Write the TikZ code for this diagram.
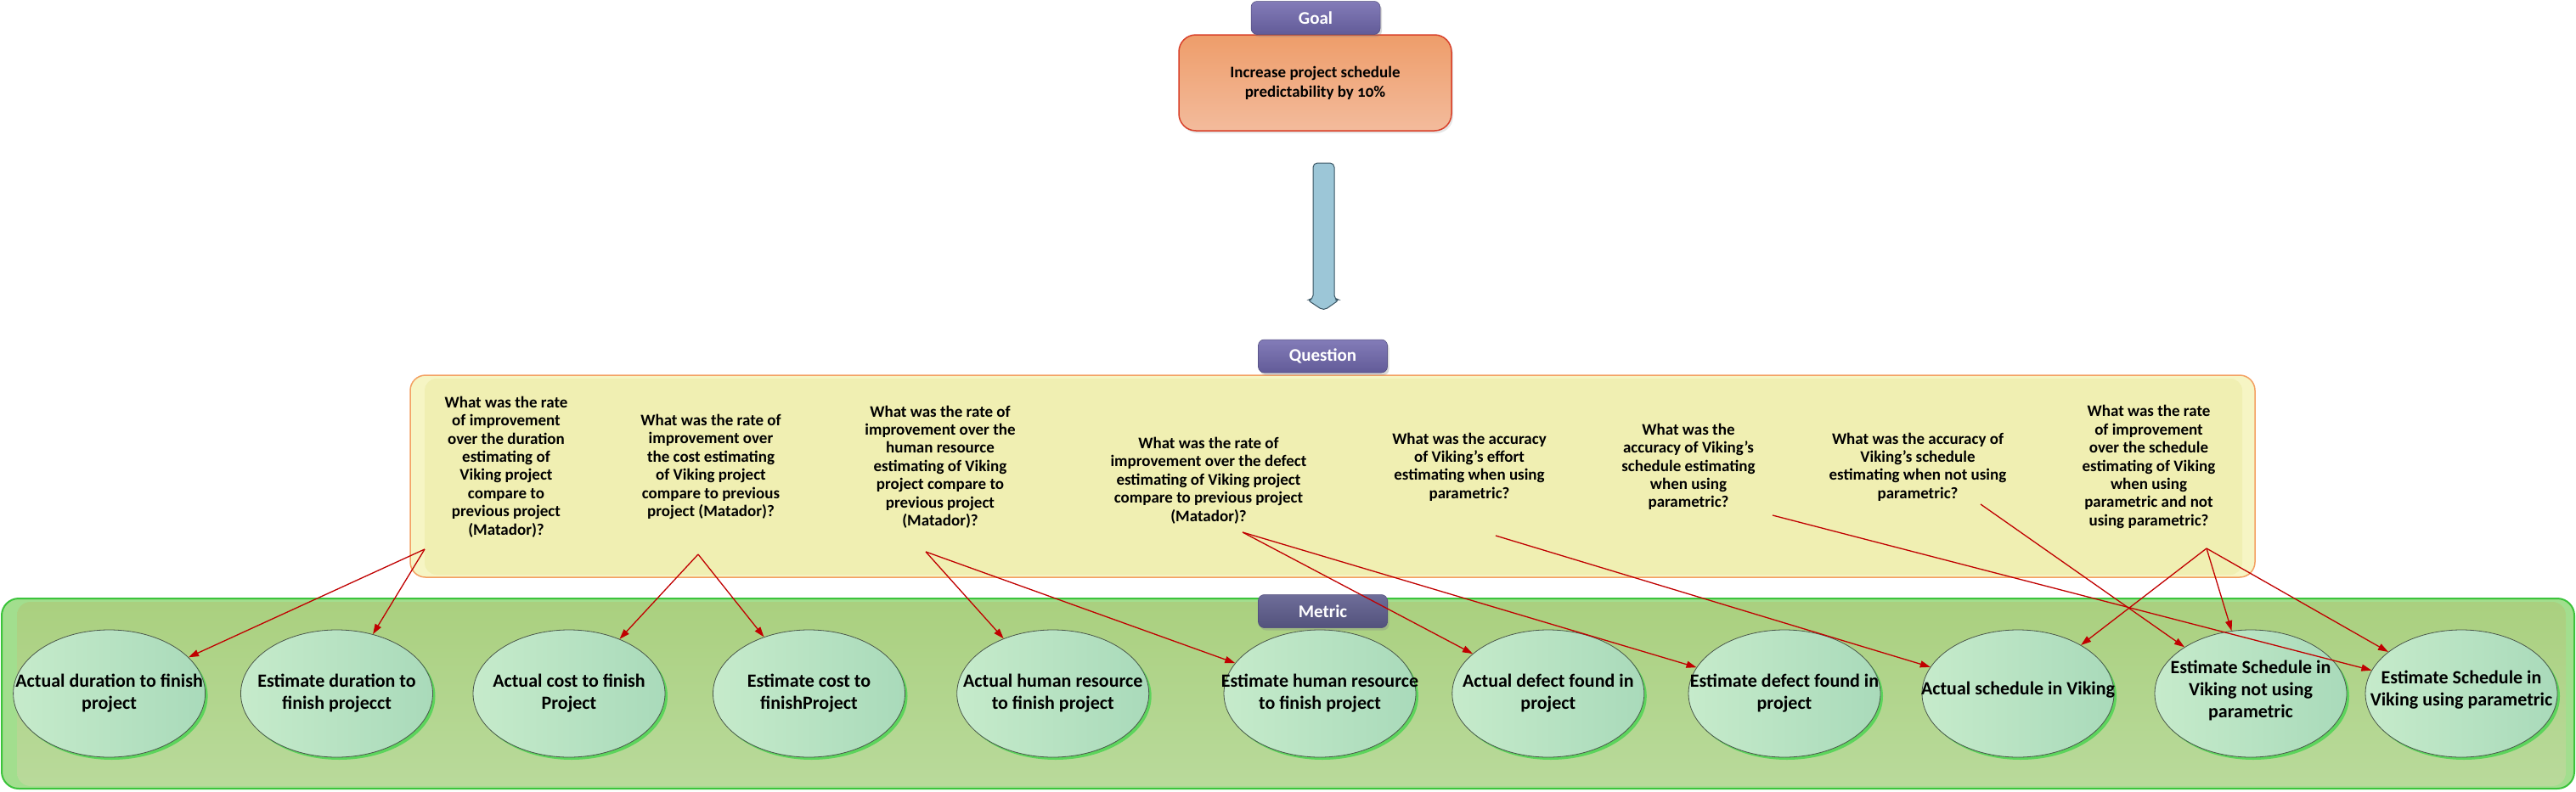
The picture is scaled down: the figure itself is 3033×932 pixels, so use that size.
\documentclass[tikz,border=0pt]{standalone}
\usepackage{fontspec}
\setmainfont{Carlito}
\usetikzlibrary{shapes.geometric,arrows.meta,shadows}
\definecolor{goalT}{HTML}{EE9D6A}
\definecolor{goalB}{HTML}{F3BB9C}
\definecolor{goalborder}{HTML}{D8402A}
\definecolor{lblT}{HTML}{837CB8}
\definecolor{lblB}{HTML}{625B98}
\definecolor{mlblT}{HTML}{6E6D99}
\definecolor{mlblB}{HTML}{53527C}
\definecolor{arrowfill}{HTML}{9CC6D7}
\definecolor{arrowborder}{HTML}{3A5563}
\definecolor{qouter}{HTML}{F6F5C4}
\definecolor{qinner}{HTML}{F0EFB2}
\definecolor{qborder}{HTML}{F3A062}
\definecolor{gouter}{HTML}{A2DE8E}
\definecolor{ginnerT}{HTML}{AAD07F}
\definecolor{ginnerB}{HTML}{B9DA9B}
\definecolor{gborder}{HTML}{3CC43C}
\definecolor{ellL}{HTML}{C6EBCB}
\definecolor{ellR}{HTML}{A9DABA}
\definecolor{ellborder}{HTML}{4A574A}
\definecolor{ellshadow}{HTML}{5CD45C}
\definecolor{connred}{HTML}{C00000}
\begin{document}
\begin{tikzpicture}[x=1pt,y=-1pt,
  qtext/.style={font=\bfseries\fontsize{19}{21.4}\selectfont, align=center, inner sep=0pt},
  metricnode/.style={ellipse, minimum width=226pt, minimum height=150pt, inner sep=0pt,
    draw=ellborder, line width=0.8pt, left color=ellL, right color=ellR,
    drop shadow={fill=ellshadow, shadow xshift=3pt, shadow yshift=-3pt, opacity=1}},
  mtext/.style={font=\bfseries\fontsize{22}{26}\selectfont, align=center, inner sep=0pt},
  lbl/.style={rounded corners=7pt, minimum width=152pt, minimum height=39pt, inner sep=0pt,
    text=white, top color=lblT, bottom color=lblB, draw=lblB!80!black, line width=0.5pt,
    font=\bfseries\fontsize{21}{24}\selectfont,
    drop shadow={shadow xshift=2pt, shadow yshift=-3pt, opacity=0.3}},
  conn/.style={draw=connred, line width=1.3pt, -{Triangle[length=12pt,width=8pt]}},
]
\useasboundingbox (0,0) rectangle (3033,932);

% Metric container
\path[fill=gouter, draw=gborder, line width=2pt, rounded corners=20pt] (2,705) rectangle (3031,929);
\path[top color=ginnerT, bottom color=ginnerB, rounded corners=16pt] (20,709) rectangle (3021,926);

% Question container
\path[fill=qouter, draw=qborder, line width=1.5pt, rounded corners=18pt] (483,442) rectangle (2655,680);
\path[fill=qinner, rounded corners=14pt] (500,446) rectangle (2640,677);

% Goal
\node[draw=goalborder, line width=1.5pt, rounded corners=20pt, minimum width=321pt, minimum height=113pt,
  top color=goalT, bottom color=goalB, drop shadow={shadow xshift=2pt, shadow yshift=-3pt, opacity=0.2},
  font=\bfseries\fontsize{19}{23}\selectfont\addfontfeatures{Numbers=OldStyle}, align=center]
  (goal) at (1548.5,97.5) {Increase project schedule\\predictability by 10\%};
\node[lbl] (goallbl) at (1549,21) {Goal};

% Block arrow
\path[fill=arrowfill, draw=arrowborder, line width=1pt, rounded corners=5pt]
  (1546,353) -- (1546,192) -- (1571,192) -- (1571,353) -- (1577,353) -- (1558.5,366) -- (1539,353) -- cycle;

% Question label
\node[lbl] (qlbl) at (1557.5,419.5) {Question};

% Question texts
\node[qtext] (q1) at (596,550) {What was the rate\\of improvement\\over the duration\\estimating of\\Viking project\\compare to\\previous project\\(Matador)?};
\node[qtext] (q2) at (837,550) {What was the rate of\\improvement over\\the cost estimating\\of Viking project\\compare to previous\\project (Matador)?};
\node[qtext] (q3) at (1107,550) {What was the rate of\\improvement over the\\human resource\\estimating of Viking\\project compare to\\previous project\\(Matador)?};
\node[qtext] (q4) at (1423,566) {What was the rate of\\improvement over the defect\\estimating of Viking project\\compare to previous project\\(Matador)?};
\node[qtext] (q5) at (1730,550) {What was the accuracy\\of Viking's effort\\estimating when using\\parametric?};
\node[qtext] (q6) at (1988,550) {What was the\\accuracy of Viking's\\schedule estimating\\when using\\parametric?};
\node[qtext] (q7) at (2258,550) {What was the accuracy of\\Viking's schedule\\estimating when not using\\parametric?};
\node[qtext] (q8) at (2530,550) {What was the rate\\of improvement\\over the schedule\\estimating of Viking\\when using\\parametric and not\\using parametric?};

% connector sources
\coordinate (q1s) at (500,647);
\coordinate (q2s) at (822,653);
\coordinate (q3s) at (1090,650);
\coordinate (q4s) at (1463,627);
\coordinate (q5s) at (1761,631);
\coordinate (q6s) at (2087,607);
\coordinate (q7s) at (2332,594);
\coordinate (q8s) at (2598,646);

% Metrics
\node[metricnode] (m1) at (128.6,817) {};
\node[metricnode] (m2) at (396.5,817) {};
\node[metricnode] (m3) at (670,817) {};
\node[metricnode] (m4) at (952.5,817) {};
\node[metricnode] (m5) at (1239.7,817) {};
\node[metricnode] (m6) at (1554,817) {};
\node[metricnode] (m7) at (1822.8,817) {};
\node[metricnode] (m8) at (2101,817) {};
\node[metricnode] (m9) at (2376,817) {};
\node[metricnode] (m10) at (2650,817) {};
\node[metricnode] (m11) at (2898,817) {};
\node[mtext] (t1) at (m1) {Actual duration to finish\\project};
\node[mtext] (t2) at (m2) {Estimate duration to\\finish projecct};
\node[mtext] (t3) at (m3) {Actual cost to finish\\Project};
\node[mtext] (t4) at (m4) {Estimate cost to\\finishProject};
\node[mtext] (t5) at (m5) {Actual human resource\\to finish project};
\node[mtext] (t6) at (m6) {Estimate human resource\\to finish project};
\node[mtext] (t7) at (m7) {Actual defect found in\\project};
\node[mtext] (t8) at (m8) {Estimate defect found in\\project};
\node[mtext] (t9) at ([yshift=4pt]m9.center) {Actual schedule in Viking};
\node[mtext] (t10) at ([yshift=4pt]m10.center) {Estimate Schedule in\\Viking not using\\parametric};
\node[mtext] (t11) at ([yshift=4pt]m11.center) {Estimate Schedule in\\Viking using parametric};

% Metric label
\node[lbl, top color=mlblT, bottom color=mlblB] (mlbl) at (1557.5,720) {Metric};

% Connectors
\draw[conn] (q1s) -- (m1);
\draw[conn] (q1s) -- (m2);
\draw[conn] (q2s) -- (m3);
\draw[conn] (q2s) -- (m4);
\draw[conn] (q3s) -- (m5);
\draw[conn] (q3s) -- (m6);
\draw[conn] (q4s) -- (m7);
\draw[conn] (q4s) -- (m8);
\draw[conn] (q5s) -- (m9);
\draw[conn] (q6s) -- (m11);
\draw[conn] (q7s) -- (m10);
\draw[conn] (q8s) -- (m9);
\draw[conn] (q8s) -- (m10);
\draw[conn] (q8s) -- (m11);
\end{tikzpicture}
\end{document}
